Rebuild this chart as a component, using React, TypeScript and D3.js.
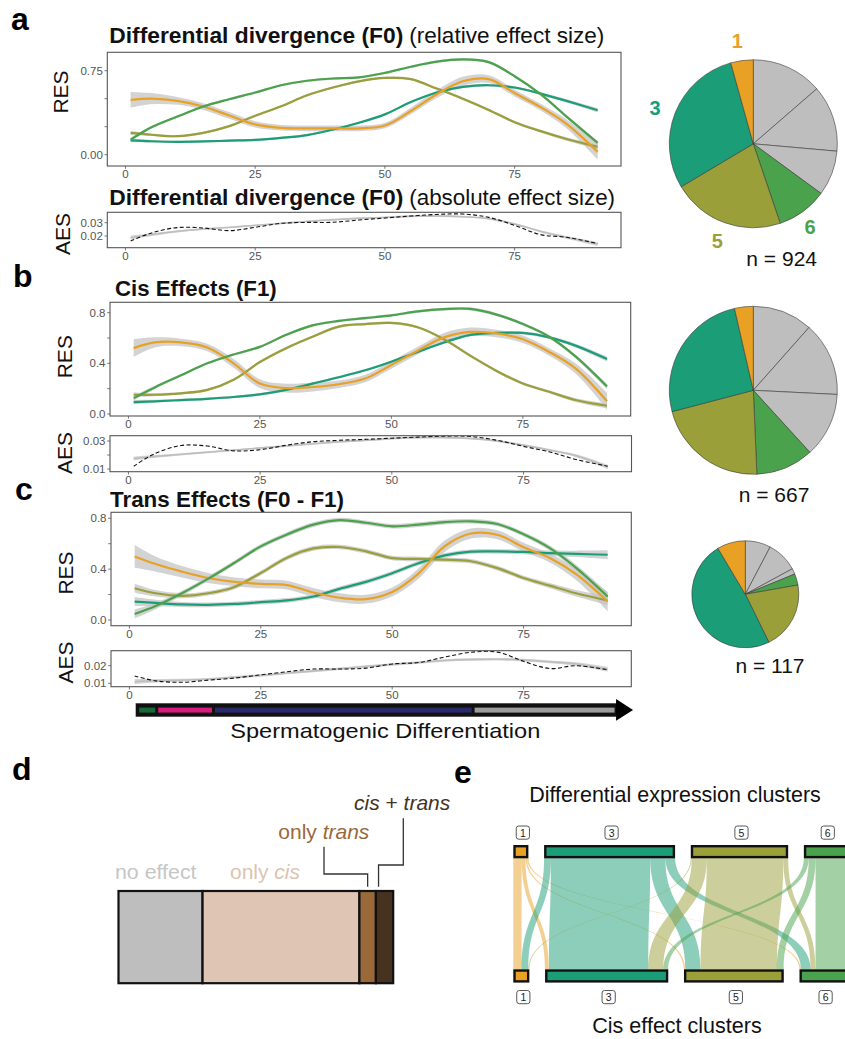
import React from 'react';
import * as d3 from 'd3';

const FONT = '"Liberation Sans", Arial, Helvetica, sans-serif';

// pseudotime grid shared by the smoothed curves
const XS = [1, 5, 10, 15, 20, 25, 30, 35, 40, 45, 50, 55, 60, 65, 70, 75, 80, 85, 91];
const X_TICKS = [0, 25, 50, 75];
const X_DOMAIN = [-3.5, 95.5];

const CLUSTERS = ['1', '3', '5', '6'];
const CLUSTER_COLORS: Record<string, string> = {
  '1': '#E8A124', '3': '#1B9E77', '5': '#9A9F3A', '6': '#4AA24C', g: '#BEBEBE',
};
const DRAW_ORDER = ['3', '5', '1', '6'];

// a - differential divergence (F0)
const aRes1 = [0.49, 0.5, 0.48, 0.43, 0.35, 0.27, 0.24, 0.235, 0.235, 0.235, 0.26, 0.39, 0.54, 0.655, 0.675, 0.55, 0.425, 0.275, 0.025];
const aRes3 = [0.128, 0.12, 0.115, 0.118, 0.125, 0.132, 0.15, 0.175, 0.225, 0.285, 0.36, 0.47, 0.555, 0.605, 0.62, 0.6, 0.545, 0.48, 0.397];
const aRes5 = [0.194, 0.178, 0.165, 0.195, 0.255, 0.347, 0.432, 0.53, 0.6, 0.655, 0.685, 0.674, 0.59, 0.5, 0.4, 0.29, 0.21, 0.14, 0.07];
const aRes6 = [0.134, 0.245, 0.34, 0.43, 0.495, 0.555, 0.62, 0.66, 0.68, 0.69, 0.73, 0.785, 0.83, 0.85, 0.826, 0.7, 0.54, 0.34, 0.105];
const aSe1 = [0.07, 0.05, 0.035, 0.03, 0.03, 0.028, 0.025, 0.025, 0.025, 0.025, 0.025, 0.03, 0.035, 0.04, 0.035, 0.03, 0.03, 0.04, 0.07];
const aSeOther = [0.018, 0.012, 0.01, 0.01, 0.01, 0.01, 0.01, 0.01, 0.01, 0.01, 0.01, 0.01, 0.01, 0.012, 0.012, 0.012, 0.012, 0.015, 0.02];
const aAes = [0.0163, 0.0223, 0.0263, 0.026, 0.024, 0.0265, 0.0295, 0.0302, 0.0303, 0.032, 0.0335, 0.035, 0.0362, 0.0365, 0.034, 0.028, 0.021, 0.019, 0.0143];
const aAesSmooth = [0.0188, 0.021, 0.0235, 0.0252, 0.0265, 0.028, 0.0295, 0.031, 0.0322, 0.0333, 0.034, 0.0348, 0.035, 0.0345, 0.033, 0.029, 0.0235, 0.019, 0.014];

// b - cis effects (F1)
const bRes1 = [0.52, 0.565, 0.565, 0.525, 0.4, 0.24, 0.204, 0.213, 0.235, 0.28, 0.387, 0.5, 0.605, 0.648, 0.636, 0.59, 0.49, 0.36, 0.1];
const bRes3 = [0.094, 0.1, 0.11, 0.12, 0.134, 0.155, 0.19, 0.24, 0.29, 0.345, 0.413, 0.49, 0.565, 0.625, 0.64, 0.64, 0.605, 0.54, 0.434];
const bRes5 = [0.152, 0.152, 0.163, 0.19, 0.27, 0.41, 0.52, 0.61, 0.69, 0.71, 0.719, 0.685, 0.59, 0.46, 0.34, 0.24, 0.175, 0.11, 0.065];
const bRes6 = [0.125, 0.21, 0.305, 0.4, 0.47, 0.53, 0.625, 0.7, 0.735, 0.757, 0.779, 0.81, 0.828, 0.83, 0.785, 0.71, 0.61, 0.455, 0.217];
const bSe1 = [0.07, 0.04, 0.03, 0.03, 0.035, 0.035, 0.035, 0.035, 0.03, 0.03, 0.03, 0.03, 0.035, 0.035, 0.03, 0.03, 0.03, 0.04, 0.065];
const bSeOther = [0.018, 0.012, 0.01, 0.01, 0.01, 0.01, 0.01, 0.01, 0.01, 0.01, 0.01, 0.01, 0.01, 0.012, 0.012, 0.012, 0.012, 0.015, 0.02];
const bAes = [0.012, 0.021, 0.0268, 0.0264, 0.023, 0.0238, 0.027, 0.0295, 0.0305, 0.0312, 0.032, 0.0328, 0.0335, 0.0332, 0.0305, 0.0262, 0.0222, 0.0168, 0.012];
const bAesSmooth = [0.0175, 0.019, 0.0205, 0.022, 0.0235, 0.025, 0.0265, 0.028, 0.0295, 0.0305, 0.0318, 0.0325, 0.0325, 0.0318, 0.03, 0.027, 0.0235, 0.0195, 0.0115];

// c - trans effects (F0 - F1)
const cRes1 = [0.5, 0.44, 0.38, 0.33, 0.3, 0.284, 0.274, 0.216, 0.175, 0.164, 0.22, 0.365, 0.58, 0.68, 0.67, 0.573, 0.488, 0.36, 0.145];
const cRes3 = [0.145, 0.134, 0.122, 0.119, 0.126, 0.14, 0.154, 0.185, 0.245, 0.3, 0.368, 0.446, 0.508, 0.537, 0.539, 0.535, 0.526, 0.52, 0.513];
const cRes5 = [0.25, 0.21, 0.19, 0.21, 0.26, 0.37, 0.49, 0.563, 0.574, 0.54, 0.487, 0.48, 0.474, 0.462, 0.408, 0.33, 0.27, 0.21, 0.153];
const cRes6 = [0.047, 0.11, 0.21, 0.325, 0.45, 0.579, 0.673, 0.75, 0.786, 0.765, 0.737, 0.75, 0.77, 0.776, 0.755, 0.674, 0.565, 0.41, 0.184];
const cSe1 = [0.09, 0.06, 0.045, 0.04, 0.035, 0.035, 0.035, 0.035, 0.035, 0.035, 0.035, 0.04, 0.045, 0.04, 0.035, 0.035, 0.035, 0.045, 0.075];
const cSeOther = [0.035, 0.025, 0.02, 0.018, 0.018, 0.018, 0.018, 0.018, 0.018, 0.018, 0.018, 0.018, 0.018, 0.018, 0.018, 0.018, 0.02, 0.025, 0.035];
const cAes = [0.0142, 0.0114, 0.0106, 0.0118, 0.013, 0.0148, 0.0166, 0.0181, 0.0181, 0.0186, 0.021, 0.0218, 0.0249, 0.0276, 0.0277, 0.0225, 0.0184, 0.02, 0.0177];
const cAesSmooth = [0.011, 0.0115, 0.0118, 0.0124, 0.0135, 0.0145, 0.0158, 0.017, 0.0183, 0.0196, 0.0207, 0.0218, 0.023, 0.0235, 0.0237, 0.0232, 0.0222, 0.021, 0.018];
const aesSe = [0.0014, 0.001, 0.0008, 0.0007, 0.0007, 0.0007, 0.0007, 0.0007, 0.0007, 0.0007, 0.0007, 0.0007, 0.0007, 0.0007, 0.0007, 0.0008, 0.0008, 0.001, 0.0014];

// pies, clockwise from 12 o'clock
const PIE_KEYS = ['g', 'g', 'g', '6', '5', '3', '1'];
const pieA = [126, 118, 80, 90, 200, 270, 40];
const pieB = [77, 95, 83, 74, 144, 170, 24];
const pieC = [9, 11, 2, 4, 24, 57, 10];

// arrow: developmental stages along pseudotime
const stageBreaks = [1.2, 5.2, 16.0, 65.4, 92.6];
const STAGE_COLORS = ['#17693A', '#D81B7F', '#29296B', '#9C9C9C'];

// d - regulatory categories (% of genes)
const D_CATS = ['no effect', 'only cis', 'only trans', 'cis + trans'];
const dShares = [30.6, 57.1, 6.0, 6.3];
const D_COLORS = ['#BEBEBE', '#DFC5B3', '#9A6939', '#46331F'];

// e - genes moving from DE cluster (rows) to cis cluster (cols)
const flowCounts = [
  [17, 8, 3, 3],
  [14, 204, 31, 20],
  [2, 31, 157, 10],
  [0, 10, 14, 66],
];

const curve = d3.curveCatmullRom.alpha(0.5);

const AxisFrame = ({ x, y, x0, x1, y0, y1, yTicks, yLabels, fmt }: any) => (
  <g fontFamily={FONT}>
    <rect x={x0} y={y0} width={x1 - x0} height={y1 - y0} fill="none" stroke="#555" strokeWidth={1.1} />
    {yTicks.map((t: number) => (
      <g key={'y' + t}>
        <line x1={x0 - 2.8} x2={x0} y1={y(t)} y2={y(t)} stroke="#555" strokeWidth={0.8} />
        {yLabels.includes(t) && (
          <text x={x0 - 4.5} y={y(t)} dy="0.35em" textAnchor="end" fontSize={11.5} fill="#555">{d3.format(fmt)(t)}</text>
        )}
      </g>
    ))}
    {X_TICKS.map(t => (
      <g key={'x' + t}>
        <line x1={x(t)} x2={x(t)} y1={y1} y2={y1 + 2.8} stroke="#555" strokeWidth={0.8} />
        <text x={x(t)} y={y1 + 12} textAnchor="middle" fontSize={11.5} fill="#555">{t}</text>
      </g>
    ))}
  </g>
);

const ResPlot = ({ id, x0, x1, y0, y1, yDomain, yTicks, yLabels, fmt, res, se }: any) => {
  const x = d3.scaleLinear().domain(X_DOMAIN).range([x0, x1]);
  const y = d3.scaleLinear().domain(yDomain).range([y1, y0]);
  const line = d3.line<number>().x((_, i) => x(XS[i])).y(v => y(v)).curve(curve);
  const band = (vals: number[], s: number[]) =>
    d3.area<number>().x((_, i) => x(XS[i])).y0((v, i) => y(v - s[i])).y1((v, i) => y(v + s[i])).curve(curve)(vals) || '';
  return (
    <g>
      <clipPath id={id}><rect x={x0} y={y0} width={x1 - x0} height={y1 - y0} /></clipPath>
      <g clipPath={`url(#${id})`}>
        {DRAW_ORDER.map(k => <path key={'b' + k} d={band(res[k], se[k])} fill="#c4c4c4" opacity={0.75} />)}
        {DRAW_ORDER.map(k => <path key={'l' + k} d={line(res[k]) || ''} fill="none" stroke={CLUSTER_COLORS[k]} strokeWidth={2.2} />)}
      </g>
      <AxisFrame x={x} y={y} x0={x0} x1={x1} y0={y0} y1={y1} yTicks={yTicks} yLabels={yLabels} fmt={fmt} />
    </g>
  );
};

const AesPlot = ({ id, x0, x1, y0, y1, yDomain, yTicks, yLabels, obs, smooth }: any) => {
  const x = d3.scaleLinear().domain(X_DOMAIN).range([x0, x1]);
  const y = d3.scaleLinear().domain(yDomain).range([y1, y0]);
  const line = d3.line<number>().x((_, i) => x(XS[i])).y(v => y(v)).curve(curve);
  const band = d3.area<number>().x((_, i) => x(XS[i])).y0((v, i) => y(v - aesSe[i])).y1((v, i) => y(v + aesSe[i])).curve(curve);
  return (
    <g>
      <clipPath id={id}><rect x={x0} y={y0} width={x1 - x0} height={y1 - y0} /></clipPath>
      <g clipPath={`url(#${id})`}>
        <path d={band(smooth) || ''} fill="#d4d4d4" />
        <path d={line(smooth) || ''} fill="none" stroke="#bdbdbd" strokeWidth={1.4} />
        <path d={line(obs) || ''} fill="none" stroke="#111" strokeWidth={1.1} strokeDasharray="4,2.4" />
      </g>
      <AxisFrame x={x} y={y} x0={x0} x1={x1} y0={y0} y1={y1} yTicks={yTicks} yLabels={yLabels} fmt=".2f" />
    </g>
  );
};

const YTitle = ({ x, y, label }: any) => (
  <text transform={`translate(${x},${y}) rotate(-90)`} textAnchor="middle" fontFamily={FONT} fontSize={21} fill="#111">{label}</text>
);

const Title = ({ x, y, bold, boldW, plain, plainX, plainW }: any) => (
  <g fontFamily={FONT} fontSize={22} fill="#111">
    <text x={x} y={y} fontWeight="bold" textLength={boldW} lengthAdjust="spacingAndGlyphs">{bold}</text>
    {plain && <text x={plainX} y={y} textLength={plainW} lengthAdjust="spacingAndGlyphs">{plain}</text>}
  </g>
);

const Pie = ({ cx, cy, r, values }: any) => {
  const arcs = d3.pie<number>().sort(null)(values);
  const arc = d3.arc<d3.PieArcDatum<number>>().innerRadius(0).outerRadius(r);
  return (
    <g transform={`translate(${cx},${cy})`}>
      {arcs.map((a, i) => (
        <path key={i} d={arc(a) || ''} fill={CLUSTER_COLORS[PIE_KEYS[i]]} stroke="#3a3a3a" strokeWidth={0.6} />
      ))}
    </g>
  );
};

const PanelLabel = ({ x, y, t }: any) => (
  <text x={x} y={y} fontFamily={FONT} fontWeight="bold" fontSize={32} fill="#000">{t}</text>
);

const Arrow = () => {
  const x = d3.scaleLinear().domain(X_DOMAIN).range([111, 631.3]);
  const xs = stageBreaks.map(b => x(b));
  const end = xs[xs.length - 1];
  return (
    <g>
      <rect x={xs[0]} y={703.3} width={end - xs[0] + 1} height={13.4} fill="#111" />
      <polygon points={`${end},699 ${end + 17},710 ${end},720.8`} fill="#000" />
      {STAGE_COLORS.map((c, i) => {
        const l = xs[i] + (i === 0 ? 3.5 : 1.5);
        const r = xs[i + 1] - 1.5;
        return <rect key={i} x={l} y={707.6} width={r - l} height={5} fill={c} />;
      })}
      <text x={385.3} y={738.3} textAnchor="middle" fontFamily={FONT} fontSize={21} fill="#111" textLength={310} lengthAdjust="spacingAndGlyphs">Spermatogenic Differentiation</text>
    </g>
  );
};

const PanelD = () => {
  const total = d3.sum(dShares);
  const x = d3.scaleLinear().domain([0, total]).range([118.5, 393.2]);
  const cum = d3.cumsum(dShares);
  const starts = [0, ...Array.from(cum).slice(0, -1)];
  return (
    <g fontFamily={FONT} fontSize={21}>
      {dShares.map((s, i) => (
        <rect key={D_CATS[i]} x={x(starts[i])} y={891} width={x(starts[i] + s) - x(starts[i])} height={92.2} fill={D_COLORS[i]} stroke="#111" strokeWidth={2.2} />
      ))}
      <text x={115} y={879.3} fill="#C6C6C6" textLength={81.5} lengthAdjust="spacingAndGlyphs">{D_CATS[0]}</text>
      <text x={230} y={879.3} fill="#DCC4B0">only <tspan fontStyle="italic">cis</tspan></text>
      <text x={278.3} y={839.3} fill={D_COLORS[2]}>only <tspan fontStyle="italic">trans</tspan></text>
      <text x={354} y={810} fill={D_COLORS[3]}><tspan fontStyle="italic">cis</tspan> + <tspan fontStyle="italic">trans</tspan></text>
      <polyline points={`324,846.7 324,874 ${x(starts[2] + dShares[2] / 2)},874 ${x(starts[2] + dShares[2] / 2)},886.7`} fill="none" stroke="#333" strokeWidth={1.3} />
      <polyline points={`403.3,818.3 403.3,865 ${x(starts[3] + dShares[3] / 2) - 6},865 ${x(starts[3] + dShares[3] / 2) - 6},886.7`} fill="none" stroke="#333" strokeWidth={1.3} />
    </g>
  );
};

const PanelE = () => {
  const topTotals = flowCounts.map(r => d3.sum(r));
  const botTotals = CLUSTERS.map((_, j) => d3.sum(flowCounts, r => r[j]));
  const total = d3.sum(topTotals);
  const w = d3.scaleLinear().domain([0, total]).range([0, 287.3]);
  const gap = 15.7;
  const place = (tot: number[]) => {
    let acc = 513.3;
    return tot.map(t => { const s = acc; acc += w(t) + gap; return s; });
  };
  const topX = place(topTotals);
  const botX = place(botTotals);
  const yA = 858, yB = 969.5, ym = (yA + yB) / 2;
  const flows: any[] = [];
  const botOff = botX.slice();
  const topOff = topX.slice();
  // top lodes ordered by target; bottom lodes ordered by source
  CLUSTERS.forEach((_, i) => CLUSTERS.forEach((__, j) => {
    const n = flowCounts[i][j];
    const t0 = topOff[i], t1 = t0 + w(n);
    topOff[i] = t1;
    flows.push({ i, j, n, t0, t1 });
  }));
  CLUSTERS.forEach((_, j) => CLUSTERS.forEach((__, i) => {
    const f = flows.find(q => q.i === i && q.j === j);
    f.b0 = botOff[j]; f.b1 = f.b0 + w(f.n); botOff[j] = f.b1;
  }));
  const node = (x0: number, width: number, yy: number, k: string) => (
    <rect key={k + yy} x={x0 + 1.2} y={yy + 1.2} width={width - 2.4} height={10.9} fill={CLUSTER_COLORS[k]} stroke="#111" strokeWidth={2.4} />
  );
  const tag = (cx: number, yy: number, k: string) => (
    <g key={'t' + k + yy}>
      <rect x={cx - 6.6} y={yy} width={13.2} height={13.2} rx={2.5} fill="#fff" stroke="#444" strokeWidth={0.9} />
      <text x={cx} y={yy + 10.6} textAnchor="middle" fontSize={10.5} fill="#222">{k}</text>
    </g>
  );
  return (
    <g fontFamily={FONT}>
      <text x={675} y={802.3} textAnchor="middle" fontSize={21.5} fill="#111" textLength={291.7} lengthAdjust="spacingAndGlyphs">Differential expression clusters</text>
      <text x={677} y={1033.3} textAnchor="middle" fontSize={21.5} fill="#111" textLength={169.4} lengthAdjust="spacingAndGlyphs">Cis effect clusters</text>
      {flows.filter(f => f.n > 0).map(f => (
        <path key={`f${f.i}${f.j}`}
          d={`M${f.t0},${yA} C${f.t0},${ym} ${f.b0},${ym} ${f.b0},${yB} L${f.b1},${yB} C${f.b1},${ym} ${f.t1},${ym} ${f.t1},${yA} Z`}
          fill={CLUSTER_COLORS[CLUSTERS[f.i]]} fillOpacity={0.5} />
      ))}
      {CLUSTERS.map((k, i) => node(topX[i], w(topTotals[i]), 845, k))}
      {CLUSTERS.map((k, j) => node(botX[j], w(botTotals[j]), 969.3, k))}
      {CLUSTERS.map((k, i) => tag(topX[i] + w(topTotals[i]) / 2 + 2, 826, k))}
      {CLUSTERS.map((k, j) => tag(botX[j] + w(botTotals[j]) / 2 + 2, 990.5, k))}
    </g>
  );
};

const App = () => (
  <svg width={845} height={1039} style={{ position: 'absolute', left: 0, top: 0, background: '#fff' }}>
    <rect width={845} height={1039} fill="#fff" />

    {/* a */}
    <PanelLabel x={11} y={30} t="a" />
    <Title x={109.3} y={43.3} bold="Differential divergence (F0)" boldW={294} plain="(relative effect size)" plainX={409.3} plainW={195} />
    <YTitle x={68.3} y={92} label="RES" />
    <ResPlot id="ca" x0={107.3} x1={621} y0={52.3} y1={166} yDomain={[-0.101, 0.914]}
      yTicks={[0, 0.25, 0.5, 0.75]} yLabels={[0, 0.75]} fmt=".2f"
      res={{ '1': aRes1, '3': aRes3, '5': aRes5, '6': aRes6 }}
      se={{ '1': aSe1, '3': aSeOther, '5': aSeOther, '6': aSeOther }} />
    <Title x={109.3} y={205} bold="Differential divergence (F0)" boldW={294} plain="(absolute effect size)" plainX={409.3} plainW={205.7} />
    <YTitle x={70} y={234} label="AES" />
    <AesPlot id="cae" x0={107.3} x1={621} y0={212.3} y1={247.7} yDomain={[0.0112, 0.0378]}
      yTicks={[0.02, 0.03]} yLabels={[0.02, 0.03]} obs={aAes} smooth={aAesSmooth} />

    {/* b */}
    <PanelLabel x={13} y={287} t="b" />
    <Title x={115} y={296} bold="Cis Effects (F1)" boldW={161.7} />
    <YTitle x={71.5} y={356.7} label="RES" />
    <ResPlot id="cb" x0={110} x1={630.7} y0={302.3} y1={416} yDomain={[-0.016, 0.882]}
      yTicks={[0, 0.2, 0.4, 0.6, 0.8]} yLabels={[0, 0.4, 0.8]} fmt=".1f"
      res={{ '1': bRes1, '3': bRes3, '5': bRes5, '6': bRes6 }}
      se={{ '1': bSe1, '3': bSeOther, '5': bSeOther, '6': bSeOther }} />
    <YTitle x={72} y={453} label="AES" />
    <AesPlot id="cbe" x0={110} x1={631.5} y0={435.7} y1={471.7} yDomain={[0.0081, 0.0338]}
      yTicks={[0.01, 0.02, 0.03]} yLabels={[0.01, 0.03]} obs={bAes} smooth={bAesSmooth} />

    {/* c */}
    <PanelLabel x={15} y={500} t="c" />
    <Title x={110} y={506.7} bold="Trans Effects (F0 - F1)" boldW={234} />
    <YTitle x={73} y={573} label="RES" />
    <ResPlot id="cc" x0={111} x1={631.3} y0={512.3} y1={625.7} yDomain={[-0.045, 0.847]}
      yTicks={[0, 0.2, 0.4, 0.6, 0.8]} yLabels={[0, 0.4, 0.8]} fmt=".1f"
      res={{ '1': cRes1, '3': cRes3, '5': cRes5, '6': cRes6 }}
      se={{ '1': cSe1, '3': cSeOther, '5': cSeOther, '6': cSeOther }} />
    <YTitle x={73} y={662.5} label="AES" />
    <AesPlot id="cce" x0={111} x1={631.3} y0={650.7} y1={686.7} yDomain={[0.0081, 0.0285]}
      yTicks={[0.01, 0.02]} yLabels={[0.01, 0.02]} obs={cAes} smooth={cAesSmooth} />
    <Arrow />

    {/* pies */}
    <Pie cx={753.3} cy={143.8} r={84} values={pieA} />
    <Pie cx={753.3} cy={390.3} r={84} values={pieB} />
    <Pie cx={745.3} cy={594.3} r={53.5} values={pieC} />
    <g fontFamily={FONT} fontWeight="bold" fontSize={20} textAnchor="middle">
      <text x={737.3} y={48} fill={CLUSTER_COLORS['1']}>1</text>
      <text x={655} y={115} fill={CLUSTER_COLORS['3']}>3</text>
      <text x={810} y={234} fill={CLUSTER_COLORS['6']}>6</text>
      <text x={717.3} y={248} fill={CLUSTER_COLORS['5']}>5</text>
    </g>
    <g fontFamily={FONT} fontSize={21} textAnchor="middle" fill="#111">
      <text x={781.7} y={266}>{`n = ${d3.sum(pieA)}`}</text>
      <text x={774} y={501.7}>{`n = ${d3.sum(pieB)}`}</text>
      <text x={770} y={672.7}>{`n = ${d3.sum(pieC)}`}</text>
    </g>

    {/* d */}
    <PanelLabel x={12} y={780} t="d" />
    <PanelD />

    {/* e */}
    <PanelLabel x={454} y={783.3} t="e" />
    <PanelE />
  </svg>
);

export default App;
